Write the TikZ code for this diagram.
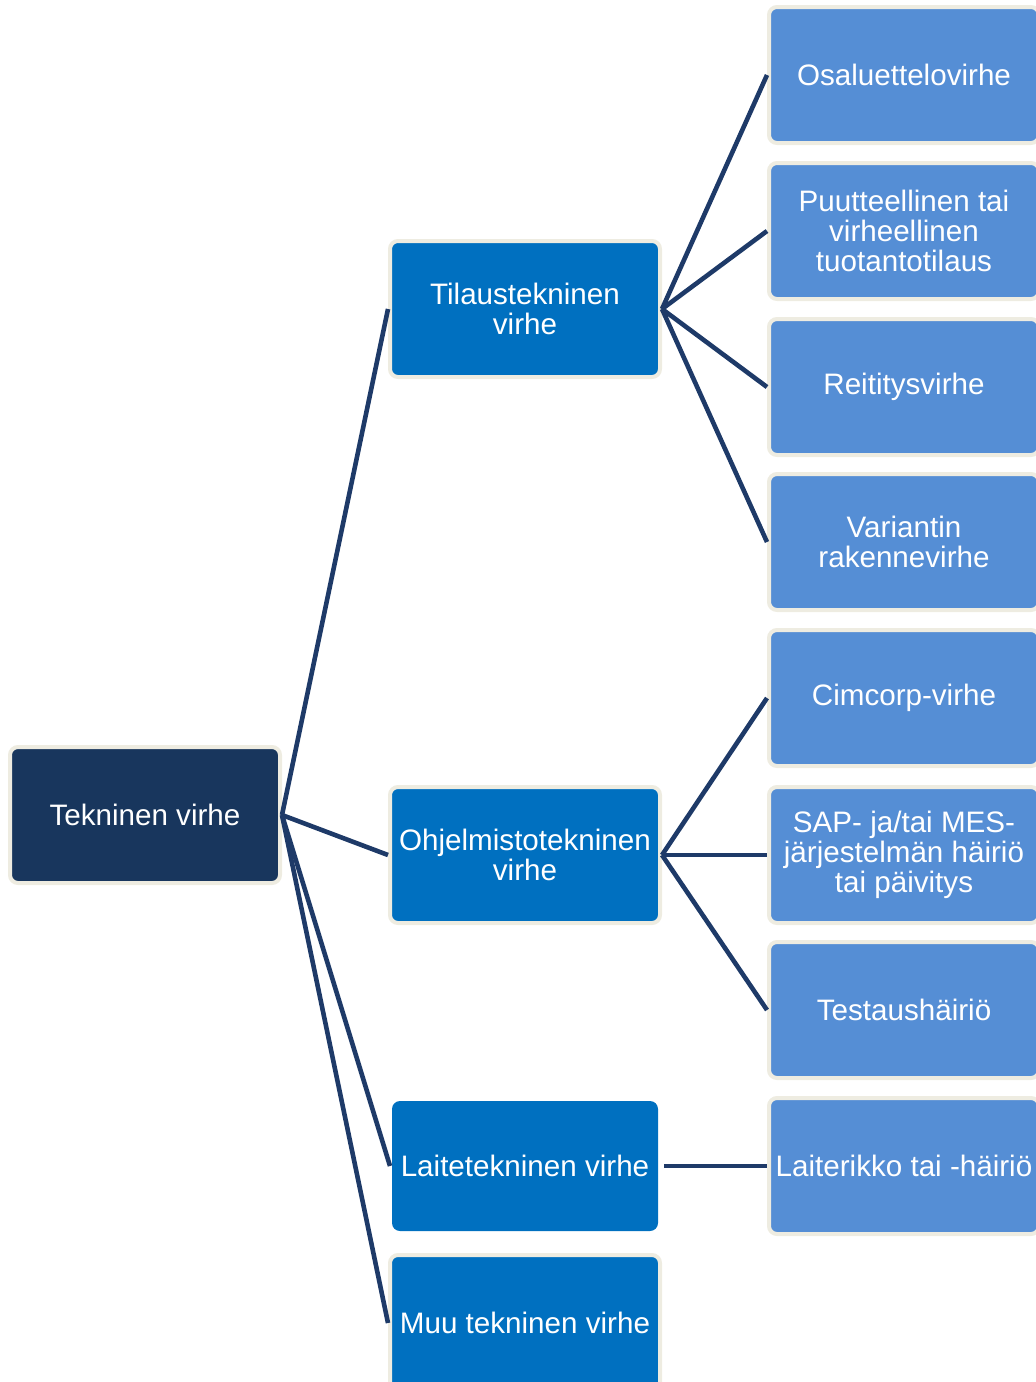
\documentclass[tikz,border=0pt]{standalone}
\usepackage{fontspec}
\usepackage{tikz}
\setmainfont{Liberation Sans}

\begin{document}
\begin{tikzpicture}[x=0.5pt, y=-0.5pt,
    box/.style={rounded corners=4pt, draw=cream, line width=2pt, text=white,
        align=center, minimum width=135pt, minimum height=68pt, inner sep=0pt,
        font=\fontsize{14.8}{15}\selectfont},
    rootbox/.style={box, fill=rootnavy},
    mainbox/.style={box, fill=mainblue},
    plainbox/.style={box, draw=none, fill=mainblue, minimum width=133pt, minimum height=65pt},
    subbox/.style={box, fill=subblue},
    link/.style={draw=linknavy, line width=2.3pt}]
    % Define colors
    \definecolor{rootnavy}{RGB}{24,54,93}
    \definecolor{mainblue}{RGB}{0,112,192}
    \definecolor{subblue}{RGB}{85,142,213}
    \definecolor{cream}{RGB}{238,236,225}
    \definecolor{linknavy}{RGB}{30,58,104}

    \useasboundingbox (0,0) rectangle (1035,1382);

    % Root
    \node[rootbox] (root) at (145,815) {Tekninen virhe};

    % Main categories
    \node[mainbox] (tilaus) at (525,309) {Tilaustekninen\\virhe};
    \node[mainbox] (ohjelma) at (525,855) {Ohjelmistotekninen\\virhe};
    \node[plainbox] (laite) at (525,1166) {Laitetekninen virhe};
    \node[mainbox] (muu) at (525,1323) {Muu tekninen virhe};

    % Sub categories
    \node[subbox] (osa) at (904,75) {Osaluettelovirhe};
    \node[subbox] (puute) at (904,231) {Puutteellinen tai\\virheellinen\\tuotantotilaus};
    \node[subbox] (reititys) at (904,387) {Reititysvirhe};
    \node[subbox] (variantti) at (904,542) {Variantin\\rakennevirhe};
    \node[subbox] (cimcorp) at (904,698) {Cimcorp-virhe};
    \node[subbox] (sap) at (904,855) {SAP- ja/tai MES-\\järjestelmän häiriö\\tai päivitys};
    \node[subbox] (testaus) at (904,1010) {Testaushäiriö};
    \node[subbox] (laiterikko) at (904,1166) {Laiterikko tai -häiriö};

    % Connectors
    \foreach \t in {tilaus,ohjelma,laite,muu}
        \draw[link] (root.east) -- (\t.west);
    \foreach \t in {osa,puute,reititys,variantti}
        \draw[link] (tilaus.east) -- (\t.west);
    \foreach \t in {cimcorp,sap,testaus}
        \draw[link] (ohjelma.east) -- (\t.west);
    \draw[link] ([xshift=2pt]laite.east) -- (laiterikko.west);
\end{tikzpicture}
\end{document}
